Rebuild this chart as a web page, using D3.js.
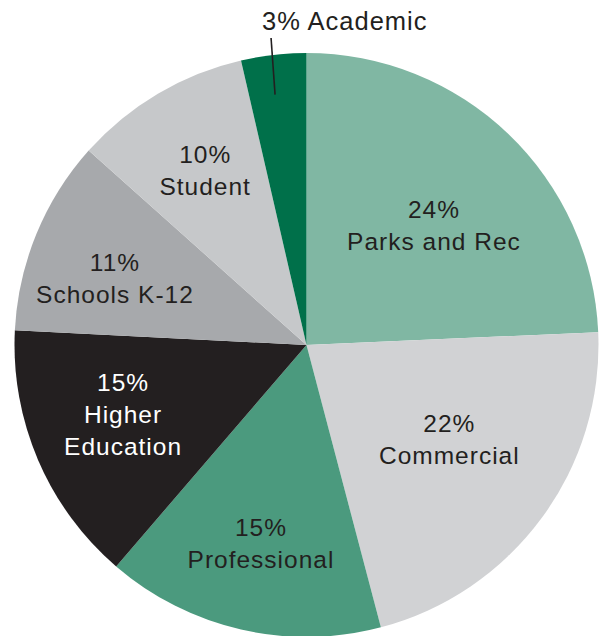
<!DOCTYPE html>
<html lang="en">
<head>
    <meta charset="UTF-8">
    <title>Pie</title>
    <style>
        body { margin: 0; background: #fff; }
        text {
            font-family: "Liberation Sans", Arial, sans-serif;
            font-size: 24.5px;
            letter-spacing: 1px;
        }
    </style>
</head>
<body>
<svg id="svg" width="600" height="636"></svg>
<script src="https://d3js.org/d3.v7.min.js"></script>
<script>
    // slices, clockwise from 12 o'clock
    const labels = ["Parks and Rec", "Commercial", "Professional", "Higher Education", "Schools K-12", "Student", "Academic"];
    // printed percentages
    const percents = [24, 22, 15, 15, 11, 10, 3];
    // slice sizes as drawn in the picture (percent of the circle)
    const shares = [24.3, 21.6, 15.4, 14.5, 10.8, 9.8, 3.6];
    const colors = ["#80b7a3", "#d1d2d4", "#4b9a7e", "#231f20", "#a7a9ac", "#c6c8ca", "#00704a"];
    const textColors = ["#231f20", "#231f20", "#231f20", "#ffffff", "#231f20", "#231f20", "#231f20"];
    // how each label breaks into lines
    const lineBreaks = [["Parks and Rec"], ["Commercial"], ["Professional"], ["Higher", "Education"], ["Schools K-12"], ["Student"], ["Academic"]];

    const svg = d3.select("svg");
    const cx = 306.5, cy = 345, radius = 292;

    const data = labels.map(function(l, i) { return {label: l, value: shares[i], pct: percents[i], i: i}; });

    const pie = d3.pie().sort(null).value(function(d) { return d.value; });
    const arc = d3.arc().innerRadius(0).outerRadius(radius);

    const g = svg.append("g").attr("transform", "translate(" + cx + "," + cy + ")");
    const arcs = pie(data);

    g.selectAll("path")
        .data(arcs)
        .enter().append("path")
        .attr("d", arc)
        .attr("fill", function(d) { return colors[d.data.i]; });

    // label placement: distance from centre and small angle nudge (degrees)
    const labelR = [175, 171, 203, 196, 203, 202];
    const labelNudge = [3, -3, 0, 2.6, -3, 0.5];
    const lineH = 32, capH = 18;

    arcs.forEach(function(d) {
        const i = d.data.i;
        const mid = (d.startAngle + d.endAngle) / 2;
        if (d.data.label === "Academic") {
            // outside label with a leader line
            const r0 = 252;
            const x1 = r0 * Math.sin(mid) - 3, y1 = -r0 * Math.cos(mid);
            g.append("line")
                .attr("x1", x1).attr("y1", y1)
                .attr("x2", x1 - 4).attr("y2", -307)
                .attr("stroke", "#231f20").attr("stroke-width", 1.6);
            g.append("text")
                .attr("x", -44.5).attr("y", -315)
                .attr("fill", textColors[i])
                .style("font-size", "25.5px")
                .text(d.data.pct + "% " + d.data.label);
            return;
        }
        const a = mid + labelNudge[i] * Math.PI / 180;
        const r = labelR[i];
        const x = r * Math.sin(a), y = -r * Math.cos(a);
        const lines = [d.data.pct + "%"].concat(lineBreaks[i]);
        const firstBase = y - (lines.length - 1) * lineH / 2 + capH / 2;
        const t = g.append("text")
            .attr("text-anchor", "middle")
            .attr("fill", textColors[i]);
        lines.forEach(function(s, k) {
            t.append("tspan")
                .attr("x", x)
                .attr("y", firstBase + k * lineH)
                .text(s);
        });
    });
</script>
</body>
</html>
